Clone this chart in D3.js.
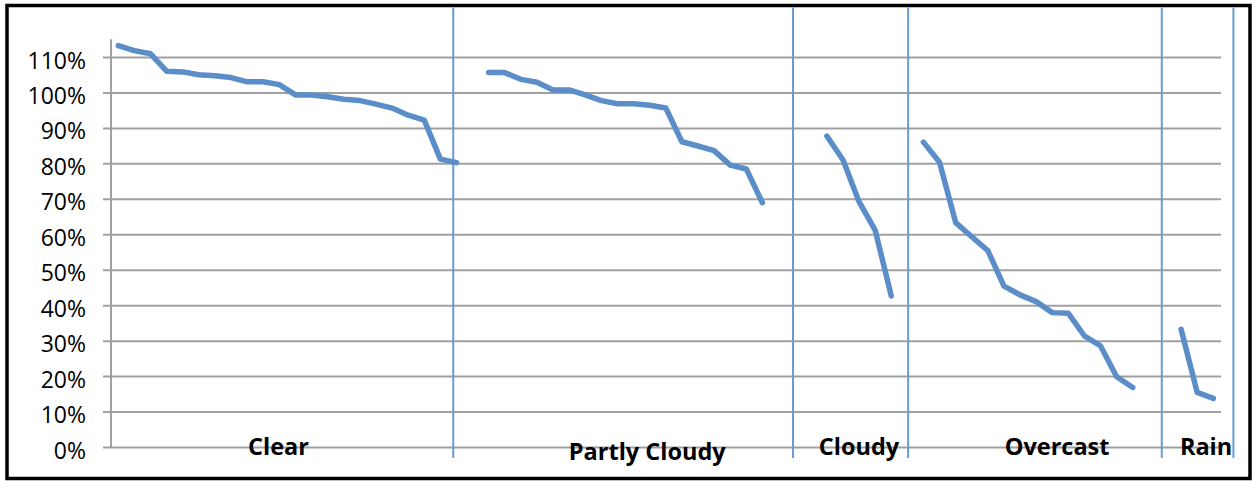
<!DOCTYPE html>
<html>
<head>
<meta charset="utf-8">
<script src="https://cdn.jsdelivr.net/npm/d3@7"></script>
<style>
  html, body { margin: 0; padding: 0; background: #fff; }
  svg { display: block; }
</style>
</head>
<body>
<svg id="chart" width="1255" height="481"></svg>
<script>
// Sky condition groups, each a run of ratios sorted from high to low
const categories = ["Clear", "Partly Cloudy", "Cloudy", "Overcast", "Rain"];

const clear = [1.132, 1.118, 1.109, 1.060, 1.058, 1.050, 1.047, 1.042, 1.030, 1.030, 1.022,
               0.993, 0.993, 0.988, 0.981, 0.977, 0.967, 0.956, 0.936, 0.922, 0.812, 0.802];
const partlyCloudy = [1.056, 1.056, 1.037, 1.029, 1.007, 1.007, 0.993, 0.977, 0.968, 0.968,
                      0.964, 0.956, 0.861, 0.849, 0.836, 0.795, 0.784, 0.689];
const cloudy = [0.877, 0.810, 0.692, 0.612, 0.426];
const overcast = [0.860, 0.803, 0.633, 0.593, 0.554, 0.454, 0.429, 0.410, 0.379, 0.377,
                  0.313, 0.285, 0.198, 0.168];
const rain = [0.332, 0.154, 0.137];

// first sample index of each group along the shared x axis
const groupStart = [0, 23, 44, 50, 66];
// group boundaries and label anchors, in sample-index units
const dividers = [20.8, 41.9, 49.05, 64.8, 69.25];
const labelAt = [9.95, 32.85, 46.0, 58.3, 67.55];

const yTicks = [0, 0.1, 0.2, 0.3, 0.4, 0.5, 0.6, 0.7, 0.8, 0.9, 1.0, 1.1];

const series = [clear, partlyCloudy, cloudy, overcast, rain];

const svg = d3.select("#chart");

const x = d3.scaleLinear().domain([0, 68]).range([118.3, 1213.3]);
const y = d3.scaleLinear().domain([0, 1.1]).range([447, 57]);

const gridLeft = 103, gridRight = 1221;

// frame
svg.append("rect")
  .attr("x", 7).attr("y", 5.5)
  .attr("width", 1243).attr("height", 473)
  .attr("fill", "none")
  .attr("stroke", "#000")
  .attr("stroke-width", 3.5);

// y axis with full-width gridlines
const yAxis = d3.axisLeft(y)
  .tickValues(yTicks)
  .tickFormat(d3.format(".0%"))
  .tickSize(-(gridRight - gridLeft))
  .tickPadding(17);

const gy = svg.append("g")
  .attr("transform", `translate(${gridLeft},0)`)
  .call(yAxis);
gy.select(".domain").remove();
gy.selectAll(".tick line")
  .attr("stroke", "#a0a0a0")
  .attr("stroke-width", 2);
gy.selectAll(".tick text")
  .attr("dy", null)
  .attr("y", 11)
  .attr("fill", "#000")
  .style("font-family", "'Open Sans', sans-serif")
  .style("font-size", "23px");

// vertical value axis line
svg.append("line")
  .attr("x1", 111).attr("x2", 111)
  .attr("y1", y(1.15)).attr("y2", y(0))
  .attr("stroke", "#a0a0a0")
  .attr("stroke-width", 2);

// category labels
svg.append("g")
  .selectAll("text")
  .data(categories)
  .join("text")
  .attr("x", (d, i) => x(labelAt[i]))
  .attr("y", d => d === "Partly Cloudy" ? 460 : 455)
  .attr("text-anchor", "middle")
  .attr("fill", "#000")
  .style("font-family", "'Open Sans', sans-serif")
  .style("font-weight", "700")
  .style("font-size", "23.5px")
  .text(d => d);

// group dividers
svg.append("g")
  .selectAll("line")
  .data(dividers)
  .join("line")
  .attr("x1", d => x(d)).attr("x2", d => x(d))
  .attr("y1", 7.5).attr("y2", 458)
  .attr("stroke", "#6b9bd3")
  .attr("stroke-width", 2);

// one line per group
const line = d3.line()
  .x(d => x(d.i))
  .y(d => y(d.v));

svg.append("g")
  .selectAll("path")
  .data(series.map((s, k) => s.map((v, j) => ({ i: groupStart[k] + j, v }))))
  .join("path")
  .attr("d", line)
  .attr("fill", "none")
  .attr("stroke", "#5b8ec8")
  .attr("stroke-width", 5.5)
  .attr("stroke-linecap", "round")
  .attr("stroke-linejoin", "round");
</script>
</body>
</html>
